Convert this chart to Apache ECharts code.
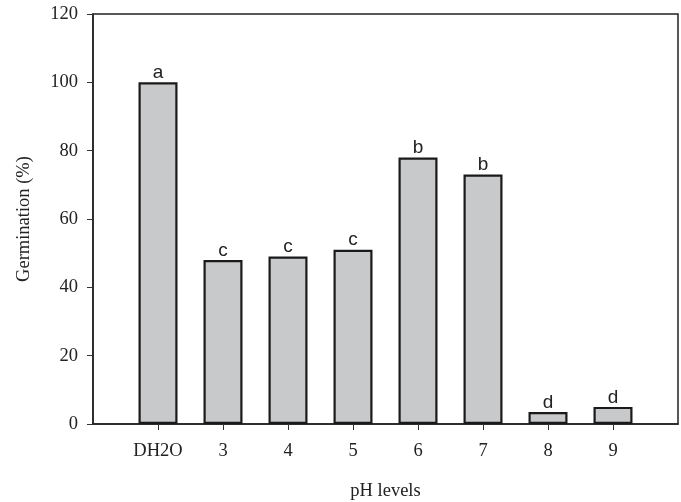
<!DOCTYPE html>
<html><head><meta charset="utf-8">
<script src="https://cdn.jsdelivr.net/npm/echarts@6/dist/echarts.min.js"></script>
<style>html,body{margin:0;padding:0;background:#fff}#c{width:681px;height:502px}</style>
</head><body><div id="c"></div>
<script>
const categories = ['DH2O', '3', '4', '5', '6', '7', '8', '9'];
const germination = [100, 48, 49, 51, 78, 73, 3.5, 5];
const letters = ['a', 'c', 'c', 'c', 'b', 'b', 'd', 'd'];
const yTicks = [0, 20, 40, 60, 80, 100, 120];

// pad with an empty slot on each side so bars sit one step from the frame
const xData = [''].concat(categories, ['']);
const yData = [null].concat(germination, [null]);
const lbls = [''].concat(letters, ['']);

const chart = echarts.init(document.getElementById('c'));
const serif = 'Liberation Serif, Times New Roman, serif';
chart.setOption({
  animation: false,
  grid: { left: 93, right: 3, top: 14, bottom: 78, outerBoundsMode: 'none', containLabel: false, show: true, borderColor: '#222', borderWidth: 1.5, backgroundColor: 'transparent' },
  xAxis: {
    type: 'category', data: xData, boundaryGap: false,
    name: 'pH levels', nameLocation: 'middle', nameGap: 58,
    nameTextStyle: { fontFamily: serif, fontSize: 18.5, color: '#222' },
    axisLine: { lineStyle: { color: '#222', width: 1.5 } },
    axisTick: { show: true, length: 6, inside: false, interval: (i) => i > 0 && i < xData.length - 1, lineStyle: { color: '#333' } },
    axisLabel: { fontFamily: serif, fontSize: 18.5, color: '#222', margin: 18, interval: 0 },
    splitLine: { show: false }
  },
  yAxis: {
    type: 'value', min: yTicks[0], max: yTicks[yTicks.length - 1], interval: 20,
    name: 'Germination (%)', nameLocation: 'middle', nameGap: 59,
    nameTextStyle: { fontFamily: serif, fontSize: 18.5, color: '#222' },
    axisLine: { show: true, lineStyle: { color: '#222', width: 1.5 } },
    axisTick: { show: true, length: 6, lineStyle: { color: '#333' } },
    axisLabel: { fontFamily: serif, fontSize: 18.5, color: '#222', margin: 15 },
    splitLine: { show: false }
  },
  series: [{
    type: 'bar', data: yData, barWidth: 39,
    itemStyle: { color: '#c8c9cb', borderColor: '#1a1a1a', borderWidth: 2.2 },
    label: {
      show: true, position: 'top', distance: 0,
      fontFamily: 'Liberation Sans, Arial, sans-serif', fontSize: 19, color: '#222',
      formatter: (p) => lbls[p.dataIndex]
    }
  }]
});
</script></body></html>
